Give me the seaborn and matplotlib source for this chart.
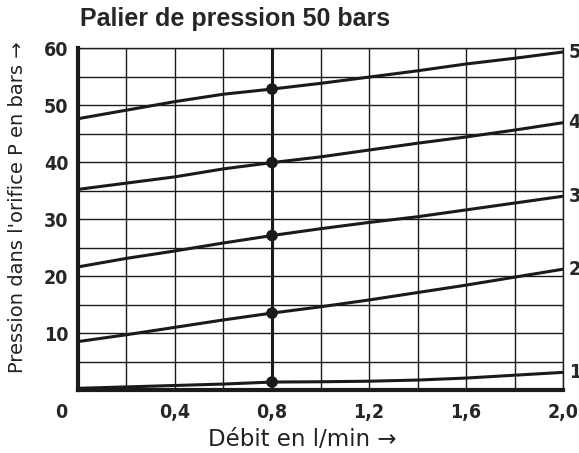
import numpy as np
import pandas as pd
import matplotlib
matplotlib.use('Agg')
import matplotlib.pyplot as plt
import seaborn as sns

# flow values (l/min)
flow = [0.0, 0.2, 0.4, 0.6, 0.8, 1.0, 1.2, 1.4, 1.6, 1.8, 2.0]

# orifice pressure per curve (bars)
p_curve1 = [0.3, 0.55, 0.8, 1.05, 1.4, 1.45, 1.55, 1.75, 2.1, 2.6, 3.1]
p_curve2 = [8.5, 9.7, 11.0, 12.3, 13.5, 14.6, 15.8, 17.1, 18.4, 19.8, 21.2]
p_curve3 = [21.6, 23.1, 24.4, 25.8, 27.1, 28.3, 29.4, 30.4, 31.6, 32.8, 34.0]
p_curve4 = [35.2, 36.3, 37.4, 38.8, 39.9, 40.9, 42.1, 43.3, 44.4, 45.6, 46.9]
p_curve5 = [47.6, 49.1, 50.6, 51.9, 52.8, 53.8, 54.9, 56.0, 57.2, 58.2, 59.3]
curve_names = ['1', '2', '3', '4', '5']

# marked working point
q_mark = 0.8

x_ticks = [0.4, 0.8, 1.2, 1.6, 2.0]
x_ticklabels = ['0,4', '0,8', '1,2', '1,6', '2,0']
y_ticks = [10, 20, 30, 40, 50, 60]

curves = [p_curve1, p_curve2, p_curve3, p_curve4, p_curve5]
df = pd.concat([pd.DataFrame({'Débit': flow, 'Pression': p, 'Courbe': n})
                for p, n in zip(curves, curve_names)])
dots = df[df['Débit'] == q_mark]

sns.set_style('white')
plt.rcParams['font.family'] = ['DejaVu Sans']
num_font = dict(family='DejaVu Sans', fontstretch='condensed', fontweight='bold', fontsize=14)

fig = plt.figure(figsize=(5.79, 4.53), dpi=100)
ax = fig.add_axes([0.1347, 0.139, 0.8377, 0.755])

sns.lineplot(data=df, x='Débit', y='Pression', units='Courbe', estimator=None,
             color='#1a1a1a', linewidth=2.2, ax=ax, zorder=3)
sns.scatterplot(data=dots, x='Débit', y='Pression', color='#1a1a1a', s=70,
                edgecolor='none', ax=ax, zorder=4)
ax.axvline(q_mark, color='#1a1a1a', linewidth=2.2, zorder=3)

ax.set_xlim(0, 2.0)
ax.set_ylim(0, 60)
ax.set_xticks(np.arange(0, 2.01, 0.2), minor=True)
ax.set_yticks(np.arange(0, 61, 5), minor=True)
ax.set_xticks(x_ticks)
ax.set_xticklabels(x_ticklabels, **num_font)
ax.set_yticks(y_ticks)
ax.set_yticklabels([str(v) for v in y_ticks], **num_font)
ax.grid(which='both', color='#1a1a1a', linewidth=1.0)
ax.tick_params(which='both', length=0, pad=7)
ax.tick_params(axis='x', pad=9)

for side in ['top', 'right']:
    ax.spines[side].set_linewidth(1.0)
    ax.spines[side].set_color('#1a1a1a')
for side in ['left', 'bottom']:
    ax.spines[side].set_linewidth(3.0)
    ax.spines[side].set_color('#1a1a1a')

ax.annotate('0', xy=(0, 0), xytext=(-8, -9), textcoords='offset points',
            ha='right', va='top', **num_font)

for p, n in zip(curves, curve_names):
    ax.annotate(n, xy=(flow[-1], p[-1]), xytext=(4, 0), textcoords='offset points',
                ha='left', va='center', annotation_clip=False, **num_font)

ax.set_xlabel('Débit en l/min →', fontsize=16.5, color='#222222')
ax.xaxis.set_label_coords(0.462, -0.11)
ax.set_ylabel("Pression dans l'orifice P en bars →", fontsize=14, color='#222222')
ax.yaxis.set_label_coords(-0.105, 0.535)
fig.text(0.138, 0.932, 'Palier de pression 50 bars', family='Liberation Sans',
         fontsize=18, fontweight='bold', ha='left', va='bottom')

fig.savefig('out.png', dpi=100)
